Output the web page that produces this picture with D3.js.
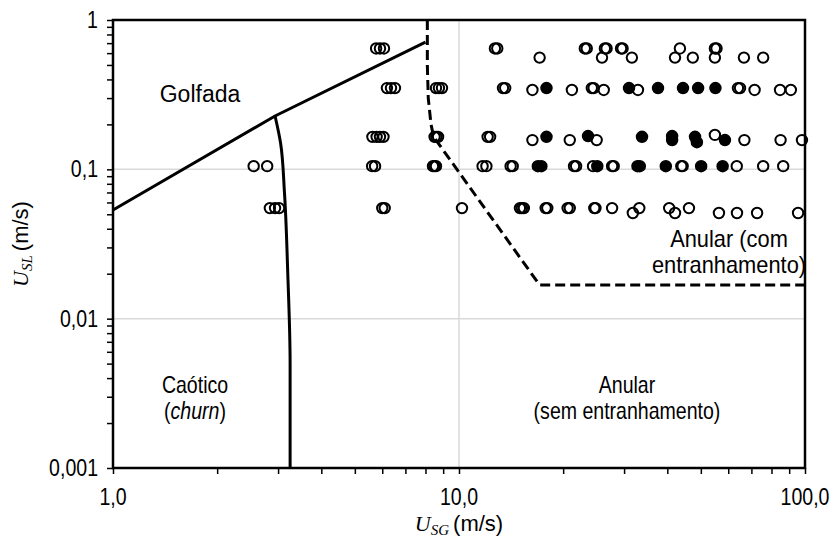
<!DOCTYPE html>
<html>
<head>
<meta charset="utf-8">
<script src="https://cdnjs.cloudflare.com/ajax/libs/d3/7.8.5/d3.min.js"></script>
<style>
  html, body { margin: 0; padding: 0; background: #fff; }
  svg { display: block; }
  text { font-family: "Liberation Sans", Arial, sans-serif; fill: #000; }
</style>
</head>
<body>
<div id="chart"></div>
<script>
// Superficial velocities (m/s): gas U_SG on x, liquid U_SL on y.
const xTickValues = [1, 10, 100];
const xTickLabels = ["1,0", "10,0", "100,0"];
const yTickValues = [0.001, 0.01, 0.1, 1];
const yTickLabels = ["0,001", "0,01", "0,1", "1"];

// Experimental points without visible entrainment (open markers)
const openUSG = [
  5.76, 5.91, 6.07, 12.7, 12.9, 23.1, 23.4, 26.4, 26.7, 29.4, 29.7, 43.5, 54.9, 55.5,
  17.1, 25.9, 31.6, 42.1, 47.4, 54.9, 66.6, 75.7,
  6.19, 6.36, 6.53, 8.58, 8.75, 8.93, 13.4, 13.6, 24.2, 24.5, 64.0, 64.9,
  16.3, 21.2, 26.2, 32.9, 71.5, 84.7, 91.0,
  5.62, 5.78, 5.91, 6.05, 8.5, 8.6, 8.7, 12.1, 12.3, 54.9,
  16.3, 20.9, 25.0, 66.8, 85.0, 98.0,
  2.55, 2.79, 5.61, 5.72, 8.41, 8.5, 8.58, 11.7, 12.0, 14.1, 14.3, 21.5, 21.8, 24.4,
  27.7, 28.0, 43.9, 44.3, 63.5, 75.7, 86.5,
  2.84, 2.94, 3.02, 6.0, 6.1, 10.2, 15.0, 15.2, 15.4, 17.8, 18.0, 20.6, 20.9, 24.6, 24.8,
  27.7, 33.2, 40.5, 46.2,
  31.8, 42.1, 56.4, 63.6, 72.7, 95.5
];
const openUSL = [
  0.645, 0.645, 0.645, 0.645, 0.645, 0.645, 0.645, 0.645, 0.645, 0.645, 0.645, 0.645, 0.645, 0.645,
  0.56, 0.56, 0.56, 0.56, 0.56, 0.56, 0.56, 0.56,
  0.35, 0.35, 0.35, 0.35, 0.35, 0.35, 0.35, 0.35, 0.35, 0.35, 0.35, 0.35,
  0.34, 0.34, 0.34, 0.34, 0.34, 0.34, 0.34,
  0.165, 0.165, 0.165, 0.165, 0.165, 0.165, 0.165, 0.165, 0.165, 0.17,
  0.157, 0.157, 0.157, 0.157, 0.157, 0.157,
  0.105, 0.105, 0.105, 0.105, 0.105, 0.105, 0.105, 0.105, 0.105, 0.105, 0.105, 0.105, 0.105, 0.105,
  0.105, 0.105, 0.105, 0.105, 0.105, 0.105, 0.105,
  0.055, 0.055, 0.055, 0.055, 0.055, 0.055, 0.055, 0.055, 0.055, 0.055, 0.055, 0.055, 0.055, 0.055, 0.055,
  0.055, 0.055, 0.055, 0.055,
  0.051, 0.051, 0.051, 0.051, 0.051, 0.051
];

// Experimental points with entrainment (filled markers)
const filledUSG = [
  17.9, 31.0, 37.6, 44.4, 49.1, 55.1,
  17.9, 23.6, 33.8, 41.3, 41.3, 48.1, 48.7, 58.7,
  16.9, 17.3, 25.1, 32.8, 33.3, 39.6, 50.1, 57.8
];
const filledUSL = [
  0.35, 0.35, 0.35, 0.35, 0.35, 0.35,
  0.165, 0.167, 0.165, 0.167, 0.157, 0.165, 0.152, 0.157,
  0.105, 0.105, 0.105, 0.105, 0.105, 0.105, 0.105, 0.105
];

// Transition boundaries
const slugUSG = [1.0, 2.94, 8.0];
const slugUSL = [0.0534, 0.2275, 0.712];
const churnUSG = [2.94, 3.05, 3.13, 3.2, 3.25, 3.25];
const churnUSL = [0.2275, 0.15, 0.07, 0.02, 0.005, 0.001];
const annularUSG = [8.1, 8.1, 8.15, 8.3, 8.45, 17.1, 100];
const annularUSL = [1.0, 0.5, 0.3, 0.2, 0.165, 0.0168, 0.0168];

const W = 839, H = 544;
const m = { left: 113, right: 34, top: 20, bottom: 76 };
const pw = W - m.left - m.right, ph = H - m.top - m.bottom;

const svg = d3.select("#chart").append("svg").attr("width", W).attr("height", H);
const g = svg.append("g").attr("transform", `translate(${m.left},${m.top})`);

const x = d3.scaleLog().domain([1, 100]).range([0, pw]);
const y = d3.scaleLog().domain([0.001, 1]).range([ph, 0]);

// Text drawn with a slightly condensed horizontal scale
function label(parent, px, py, str, size, anchor, sx = 0.85) {
  const t = parent.append("g").attr("transform", `translate(${px},${py}) scale(${sx},1)`)
    .append("text").attr("text-anchor", anchor).attr("font-size", size);
  return t.text(str);
}

// Grid lines at the decades
g.append("g").selectAll("line").data([10]).join("line")
  .attr("x1", d => x(d)).attr("x2", d => x(d)).attr("y1", 0).attr("y2", ph)
  .attr("stroke", "#d9d9d9").attr("stroke-width", 1.5);
g.append("g").selectAll("line").data([0.01, 0.1]).join("line")
  .attr("y1", d => y(d)).attr("y2", d => y(d)).attr("x1", 0).attr("x2", pw)
  .attr("stroke", "#d9d9d9").attr("stroke-width", 1.5);

// Minor and major ticks
const xMinor = [];
[1, 10].forEach(b => { for (let k = 1; k <= 10; k++) xMinor.push(b * k); });
const yMinor = [];
[0.001, 0.01, 0.1].forEach(b => { for (let k = 1; k <= 10; k++) yMinor.push(b * k); });

const xAxis = d3.axisBottom(x).tickValues(Array.from(new Set(xMinor))).tickSize(6).tickFormat("");
const yAxis = d3.axisLeft(y).tickValues(Array.from(new Set(yMinor))).tickSize(6).tickFormat("");
const gx = g.append("g").attr("transform", `translate(0,${ph})`).call(xAxis);
const gy = g.append("g").call(yAxis);
[gx, gy].forEach(a => {
  a.select(".domain").remove();
  a.selectAll(".tick line").attr("stroke", "#000").attr("stroke-width", 1.5);
});

// Tick labels
xTickValues.forEach((v, i) => label(g, x(v), ph + 37, xTickLabels[i], 23, "middle"));
yTickValues.forEach((v, i) => label(g, -15, y(v) + 8, yTickLabels[i], 23, "end"));

// Plot frame
g.append("rect").attr("x", 0).attr("y", 0).attr("width", pw).attr("height", ph)
  .attr("fill", "none").attr("stroke", "#000").attr("stroke-width", 2.5);

// Boundaries
const line = (xs, ys) => d3.line().x(d => x(d[0])).y(d => y(d[1]))(xs.map((v, i) => [v, ys[i]]));
g.append("path").attr("d", line(slugUSG, slugUSL))
  .attr("fill", "none").attr("stroke", "#000").attr("stroke-width", 3);
g.append("path")
  .attr("d", d3.line().x(d => x(d[0])).y(d => y(d[1])).curve(d3.curveMonotoneY)(churnUSG.map((v, i) => [v, churnUSL[i]])))
  .attr("fill", "none").attr("stroke", "#000").attr("stroke-width", 3);
g.append("path").attr("d", line(annularUSG, annularUSL))
  .attr("fill", "none").attr("stroke", "#000").attr("stroke-width", 3)
  .attr("stroke-dasharray", "10,5");

// Points
g.append("g").selectAll("circle").data(openUSG.map((v, i) => [v, openUSL[i]])).join("circle")
  .attr("cx", d => x(d[0])).attr("cy", d => y(d[1])).attr("r", 5.2)
  .attr("fill", "none").attr("stroke", "#000").attr("stroke-width", 2);
g.append("g").selectAll("circle").data(filledUSG.map((v, i) => [v, filledUSL[i]])).join("circle")
  .attr("cx", d => x(d[0])).attr("cy", d => y(d[1])).attr("r", 5.5)
  .attr("fill", "#000").attr("stroke", "#000").attr("stroke-width", 1.5);

// Regime labels
label(g, 200 - m.left, 102 - m.top, "Golfada", 23, "middle", 1.0);
label(g, 195 - m.left, 393 - m.top, "Caótico", 23, "middle");
const ch = label(g, 195 - m.left, 419 - m.top, "", 23, "middle");
ch.append("tspan").text("(");
ch.append("tspan").attr("font-style", "italic").text("churn");
ch.append("tspan").text(")");
label(g, 627 - m.left, 393 - m.top, "Anular", 23, "middle");
label(g, 627 - m.left, 419 - m.top, "(sem entranhamento)", 23, "middle");
label(g, 729 - m.left, 247 - m.top, "Anular (com", 23, "middle", 0.95);
label(g, 729 - m.left, 273 - m.top, "entranhamento)", 23, "middle", 0.95);

// Axis titles
const xt = svg.append("text").attr("x", 459).attr("y", 531).attr("text-anchor", "middle");
xt.append("tspan").attr("font-family", "'Liberation Serif', serif").attr("font-style", "italic").attr("font-size", 22).text("U");
xt.append("tspan").attr("font-family", "'Liberation Serif', serif").attr("font-style", "italic").attr("font-size", 15).attr("dy", 4).text("SG");
xt.append("tspan").attr("font-size", 22).attr("dy", -4).attr("dx", 4).text("(m/s)");

const yt = svg.append("text").attr("transform", "translate(28,244) rotate(-90)").attr("text-anchor", "middle");
yt.append("tspan").attr("font-family", "'Liberation Serif', serif").attr("font-style", "italic").attr("font-size", 22).text("U");
yt.append("tspan").attr("font-family", "'Liberation Serif', serif").attr("font-style", "italic").attr("font-size", 15).attr("dy", 4).text("SL");
yt.append("tspan").attr("font-size", 22).attr("dy", -4).attr("dx", 4).text("(m/s)");
</script>
</body>
</html>
